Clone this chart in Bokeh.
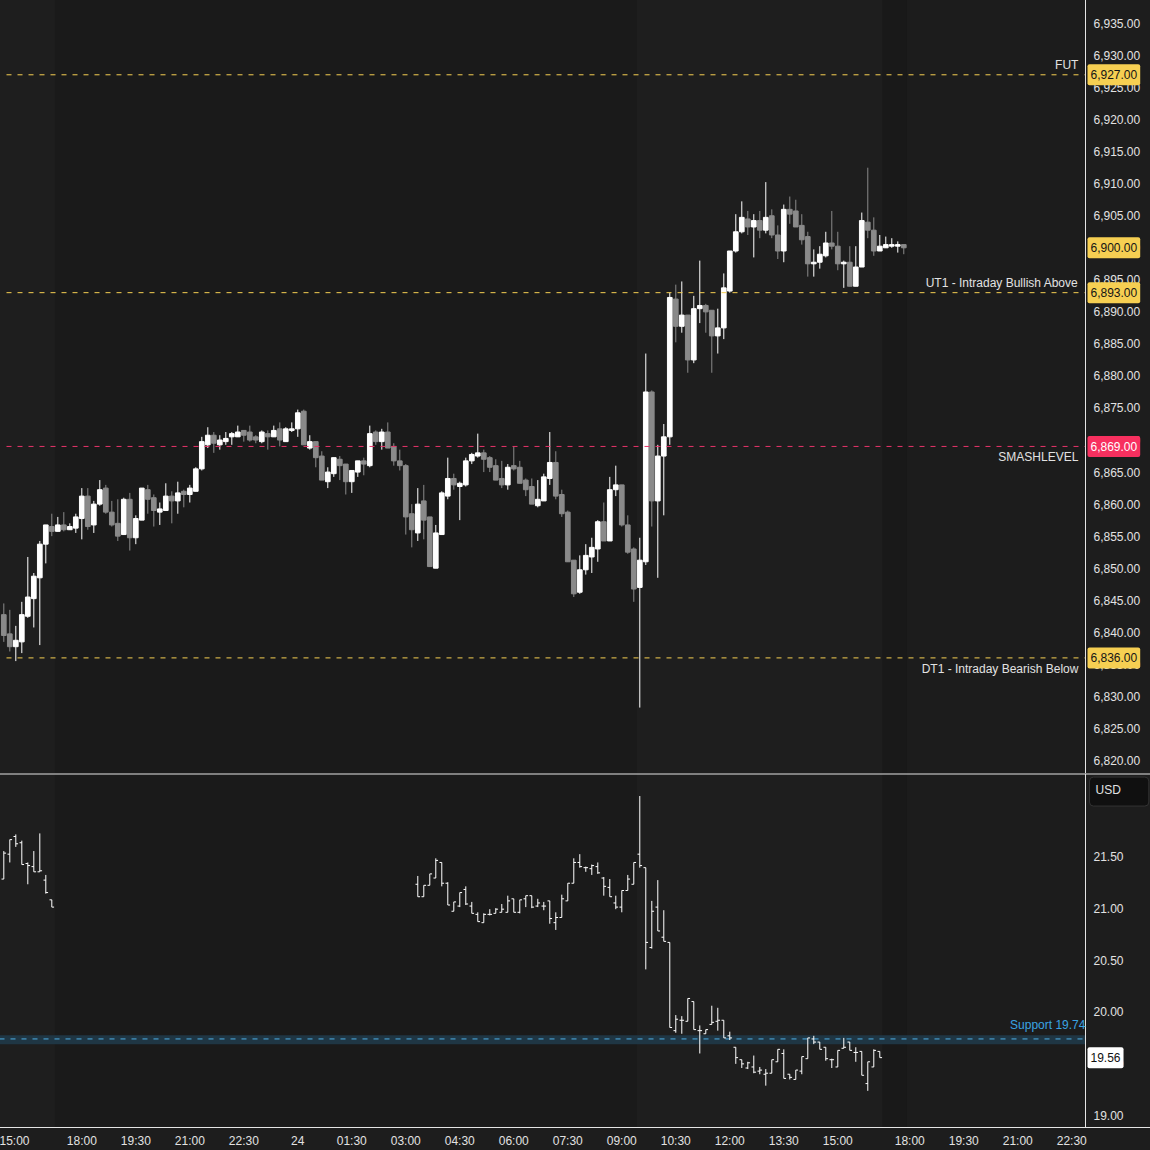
import numpy as np
from bokeh.plotting import figure
from bokeh.models import (ColumnDataSource, FixedTicker, NumeralTickFormatter, Label,
                          BoxAnnotation, Span, Range1d, LinearAxis)
from bokeh.layouts import column
from bokeh.embed import file_html
from bokeh.resources import INLINE

# ---------------- data ----------------
es_open = [6842.75, 6839.75, 6837.75, 6838.5, 6842.5, 6845.25, 6848.5, 6853.75, 6856.5, 6855.75,
           6856.75, 6856.0, 6856.25, 6857.75, 6861.25, 6856.75, 6860.0, 6862.5, 6858.75, 6857.0,
           6855.25, 6860.75, 6854.75, 6857.5, 6862.25, 6861.0, 6858.75, 6859.0, 6861.25, 6860.5,
           6862.0, 6861.5, 6862.0, 6865.5, 6869.25, 6870.75, 6869.25, 6869.75, 6870.5, 6870.5,
           6871.5, 6871.25, 6870.5, 6869.75, 6871.0, 6870.5, 6871.75, 6869.75, 6871.5, 6871.75,
           6874.5, 6868.75, 6869.75, 6867.5, 6863.5, 6864.75, 6867.0, 6866.25, 6863.5, 6865.0,
           6866.75, 6866.0, 6871.25, 6869.75, 6871.25, 6869.0, 6866.75, 6866.0, 6858.5, 6855.5,
           6860.5, 6858.0, 6850.0, 6855.25, 6861.25, 6864.0, 6862.75, 6863.0, 6866.75, 6867.5,
           6868.0, 6867.25, 6866.0, 6864.0, 6863.0, 6866.0, 6865.75, 6863.75, 6862.75, 6859.75,
           6860.5, 6864.0, 6866.5, 6861.5, 6858.75, 6851.25, 6846.25, 6849.75, 6851.75, 6853.0,
           6857.25, 6854.25, 6862.25, 6863.0, 6856.75, 6853.0, 6847.0, 6851.0, 6877.5, 6860.5,
           6867.5, 6870.5, 6892.0, 6887.75, 6889.5, 6882.5, 6890.5, 6891.0, 6890.25, 6886.25,
           6887.5, 6893.25, 6899.5, 6902.5, 6904.5, 6903.25, 6904.25, 6902.75, 6905.0, 6902.0,
           6899.5, 6906.0, 6905.75, 6903.5, 6901.75, 6897.5, 6897.75, 6898.75, 6900.75, 6900.25,
           6897.5, 6897.75, 6894.0, 6897.0, 6904.0, 6902.75, 6899.5, 6900.0, 6900.25, 6900.25,
           6900.5]
es_high = [6844.5, 6843.5, 6841.0, 6844.75, 6851.75, 6849.25, 6854.25, 6856.75, 6858.5, 6858.0,
           6858.75, 6857.0, 6858.5, 6862.5, 6862.5, 6860.5, 6863.75, 6863.0, 6860.5, 6860.75,
           6861.0, 6861.75, 6858.25, 6862.5, 6863.0, 6861.5, 6860.25, 6863.25, 6862.0, 6863.5,
           6862.25, 6863.0, 6865.75, 6870.5, 6872.0, 6871.25, 6870.75, 6871.25, 6871.25, 6872.25,
           6871.5, 6872.25, 6870.75, 6871.5, 6871.5, 6872.25, 6872.75, 6872.0, 6872.75, 6874.75,
           6874.75, 6870.75, 6869.75, 6868.25, 6865.75, 6867.25, 6867.5, 6866.25, 6865.25, 6866.75,
           6867.25, 6872.25, 6871.5, 6871.75, 6872.75, 6869.5, 6868.5, 6866.25, 6860.0, 6862.5,
           6863.0, 6858.0, 6856.75, 6862.0, 6867.25, 6864.75, 6863.5, 6867.25, 6868.0, 6871.0,
           6868.5, 6867.5, 6867.0, 6866.75, 6866.25, 6869.0, 6866.75, 6864.0, 6864.0, 6863.75,
           6864.75, 6871.25, 6868.25, 6862.25, 6859.0, 6851.25, 6852.0, 6853.75, 6854.75, 6857.5,
           6860.25, 6864.25, 6866.0, 6863.0, 6858.25, 6853.25, 6854.75, 6883.5, 6877.75, 6869.25,
           6872.5, 6893.0, 6894.25, 6894.75, 6889.5, 6892.5, 6898.0, 6891.25, 6890.25, 6890.5,
           6896.0, 6899.5, 6905.25, 6907.25, 6905.75, 6905.25, 6905.75, 6910.25, 6906.0, 6903.5,
           6906.75, 6908.0, 6907.5, 6905.25, 6902.5, 6899.75, 6900.25, 6902.5, 6905.75, 6902.5,
           6898.0, 6900.25, 6900.25, 6905.5, 6912.5, 6904.75, 6902.0, 6901.75, 6901.5, 6901.0,
           6900.5]
es_low = [6838.5, 6837.0, 6835.5, 6836.75, 6842.25, 6840.75, 6838.0, 6850.75, 6855.0, 6855.75,
          6855.75, 6856.0, 6855.5, 6854.5, 6856.0, 6855.5, 6859.75, 6858.5, 6856.5, 6854.25,
          6855.25, 6852.75, 6853.75, 6857.5, 6858.5, 6856.5, 6856.75, 6859.0, 6857.0, 6858.5,
          6859.5, 6860.25, 6862.0, 6865.25, 6868.75, 6868.0, 6868.5, 6869.25, 6869.25, 6870.5,
          6869.75, 6869.75, 6869.5, 6869.5, 6868.5, 6870.5, 6869.0, 6869.75, 6871.25, 6870.5,
          6869.25, 6868.5, 6865.75, 6863.75, 6862.5, 6864.25, 6863.75, 6861.5, 6861.75, 6864.25,
          6864.5, 6865.75, 6869.25, 6868.5, 6868.75, 6866.0, 6865.25, 6855.25, 6853.25, 6854.25,
          6854.5, 6850.25, 6850.0, 6855.25, 6860.75, 6862.25, 6857.5, 6862.75, 6866.25, 6867.25,
          6865.0, 6865.0, 6863.75, 6862.5, 6862.25, 6865.25, 6863.25, 6861.25, 6860.0, 6859.5,
          6860.5, 6863.0, 6860.75, 6858.0, 6851.0, 6845.5, 6846.0, 6849.0, 6849.25, 6851.0,
          6854.25, 6854.25, 6861.25, 6856.5, 6852.25, 6844.75, 6828.25, 6850.5, 6856.5, 6848.5,
          6858.25, 6869.25, 6885.25, 6886.75, 6880.5, 6882.0, 6888.25, 6886.75, 6880.5, 6883.5,
          6885.75, 6893.0, 6899.25, 6902.25, 6902.0, 6898.5, 6901.5, 6902.25, 6901.5, 6898.25,
          6897.75, 6903.75, 6903.25, 6900.5, 6895.5, 6895.5, 6896.75, 6898.5, 6899.75, 6896.5,
          6893.75, 6894.0, 6894.0, 6897.0, 6901.5, 6898.75, 6899.5, 6900.0, 6900.0, 6899.25,
          6899.0]
es_close = [6839.5, 6837.75, 6838.75, 6842.75, 6845.5, 6848.75, 6853.75, 6856.75, 6855.75, 6856.75,
            6856.0, 6856.5, 6858.0, 6861.25, 6856.5, 6860.0, 6862.25, 6858.75, 6856.75, 6855.0,
            6860.75, 6854.75, 6857.75, 6862.5, 6860.75, 6859.0, 6859.25, 6861.25, 6860.5, 6861.75,
            6861.5, 6862.5, 6865.5, 6869.75, 6870.75, 6869.5, 6870.0, 6870.25, 6871.0, 6871.25,
            6870.75, 6870.0, 6870.0, 6871.25, 6870.5, 6871.5, 6870.0, 6871.75, 6871.75, 6874.25,
            6869.25, 6869.75, 6867.25, 6863.75, 6865.0, 6867.25, 6866.0, 6863.5, 6865.25, 6866.75,
            6866.25, 6871.0, 6869.75, 6871.25, 6868.75, 6866.75, 6866.0, 6858.0, 6856.0, 6860.0,
            6857.5, 6850.25, 6855.5, 6861.75, 6864.0, 6863.0, 6863.25, 6866.75, 6867.75, 6868.0,
            6867.0, 6865.75, 6863.75, 6863.0, 6865.75, 6865.5, 6863.25, 6862.25, 6860.0, 6860.75,
            6864.25, 6866.5, 6861.25, 6858.5, 6851.0, 6846.0, 6849.75, 6852.0, 6853.25, 6857.25,
            6854.25, 6862.25, 6863.0, 6856.75, 6852.5, 6846.75, 6851.25, 6877.5, 6860.5, 6867.5,
            6870.5, 6892.25, 6887.75, 6889.5, 6882.5, 6890.5, 6891.0, 6890.0, 6886.25, 6887.5,
            6893.75, 6899.5, 6902.5, 6904.75, 6903.25, 6904.25, 6902.75, 6904.75, 6902.0, 6899.5,
            6906.0, 6905.25, 6903.25, 6901.25, 6897.5, 6897.75, 6899.0, 6900.75, 6900.25, 6897.5,
            6897.75, 6894.0, 6897.0, 6904.25, 6902.75, 6899.5, 6900.25, 6900.5, 6900.5, 6900.5,
            6900.0]

vix_idx = [0, 1, 2, 3, 4, 5, 6, 7, 8,
           69, 70, 71, 72, 73, 74, 75, 76, 77, 78, 79, 80, 81, 82, 83, 84, 85, 86, 87, 88, 89,
           90, 91, 92, 93, 94, 95, 96, 97, 98, 99, 100, 101, 102, 103, 104, 105, 106, 107, 108,
           109, 110, 111, 112, 113, 114, 115, 116, 117, 118, 119, 120, 121, 122, 123, 124, 125,
           126, 127, 128, 129, 130, 131, 132, 133, 134, 135, 136, 137, 138, 139, 140, 141, 142,
           143, 144, 145, 146]
vix_open = [21.28, 21.52, 21.69, 21.63, 21.43, 21.40, 21.35, 21.27, 21.08,
            21.23, 21.11, 21.22, 21.29, 21.44, 21.24, 20.97, 21.02, 21.18, 21.02, 20.94, 20.86,
            20.94, 20.95, 20.96, 20.96, 21.09, 20.96, 21.09, 21.12, 21.02, 21.02, 21.07, 20.86,
            20.91, 21.07, 21.24, 21.44, 21.39, 21.38, 21.40, 21.29, 21.20, 21.05, 21.01, 21.17,
            21.23, 21.52, 21.39, 20.62, 21.01, 20.72, 20.67, 19.82, 19.92, 19.91, 20.10, 19.82,
            19.79, 19.88, 19.91, 19.92, 19.77, 19.66, 19.54, 19.46, 19.47, 19.43, 19.40, 19.41,
            19.52, 19.60, 19.40, 19.35, 19.43, 19.55, 19.74, 19.71, 19.66, 19.54, 19.47, 19.65,
            19.71, 19.61, 19.62, 19.31, 19.47, 19.62]
vix_high = [21.55, 21.66, 21.71, 21.65, 21.44, 21.55, 21.72, 21.32, 21.08,
            21.31, 21.22, 21.33, 21.48, 21.44, 21.25, 21.06, 21.15, 21.21, 21.06, 20.96, 20.95,
            20.99, 21.00, 21.04, 21.12, 21.09, 21.08, 21.12, 21.12, 21.09, 21.06, 21.07, 20.96,
            21.13, 21.24, 21.48, 21.52, 21.40, 21.42, 21.44, 21.30, 21.28, 21.12, 21.17, 21.32,
            21.44, 22.08, 21.39, 21.07, 21.27, 20.98, 20.67, 19.97, 19.96, 20.13, 20.10, 19.87,
            19.83, 20.06, 20.04, 19.92, 19.81, 19.66, 19.54, 19.52, 19.58, 19.47, 19.45, 19.54,
            19.64, 19.64, 19.40, 19.44, 19.57, 19.75, 19.77, 19.71, 19.66, 19.55, 19.63, 19.75,
            19.71, 19.66, 19.62, 19.52, 19.64, 19.62]
vix_low = [21.28, 21.44, 21.59, 21.42, 21.23, 21.35, 21.35, 21.14, 21.01,
           21.11, 21.11, 21.22, 21.29, 21.21, 21.03, 20.97, 21.01, 21.03, 20.95, 20.87, 20.86,
           20.93, 20.95, 20.96, 20.96, 20.96, 20.95, 21.01, 21.00, 21.01, 20.98, 20.85, 20.79,
           20.91, 21.07, 21.24, 21.39, 21.35, 21.32, 21.33, 21.12, 21.11, 20.99, 20.96, 21.17,
           21.23, 21.39, 20.41, 20.61, 20.78, 20.68, 19.85, 19.80, 19.79, 19.91, 19.83, 19.60,
           19.79, 19.88, 19.82, 19.75, 19.73, 19.50, 19.46, 19.45, 19.41, 19.40, 19.29, 19.41,
           19.52, 19.36, 19.35, 19.35, 19.40, 19.55, 19.69, 19.64, 19.53, 19.46, 19.47, 19.65,
           19.63, 19.52, 19.39, 19.24, 19.47, 19.56]
vix_close = [21.53, 21.66, 21.62, 21.42, 21.41, 21.35, 21.36, 21.15, 21.01,
             21.11, 21.22, 21.33, 21.46, 21.24, 21.03, 21.06, 21.15, 21.04, 20.95, 20.87, 20.94,
             20.94, 20.99, 20.99, 21.07, 20.96, 21.08, 21.12, 21.01, 21.05, 21.02, 20.90, 20.91,
             21.09, 21.24, 21.44, 21.40, 21.39, 21.41, 21.34, 21.21, 21.11, 21.01, 21.17, 21.28,
             21.44, 21.41, 20.67, 20.97, 20.78, 20.68, 19.85, 19.93, 19.92, 20.13, 19.83, 19.82,
             19.83, 19.90, 19.92, 19.75, 19.75, 19.56, 19.50, 19.51, 19.42, 19.44, 19.41, 19.54,
             19.64, 19.36, 19.37, 19.44, 19.57, 19.75, 19.71, 19.64, 19.55, 19.54, 19.63, 19.66,
             19.63, 19.61, 19.39, 19.52, 19.63, 19.56]

# time axis: bar index -> label
tick_idx = [1, 13, 22, 31, 40, 49, 58, 67, 76, 85, 94, 103, 112, 121, 130, 139, 151, 160, 169, 178]
tick_labels = ["15:00", "18:00", "19:30", "21:00", "22:30", "24", "01:30", "03:00", "04:30", "06:00",
               "07:30", "09:00", "10:30", "12:00", "13:30", "15:00", "18:00", "19:30", "21:00", "22:30"]

price_ticks = [6820, 6825, 6830, 6835, 6840, 6845, 6850, 6855, 6860, 6865, 6870, 6875, 6880, 6885,
               6890, 6895, 6900, 6905, 6910, 6915, 6920, 6925, 6930, 6935]
vix_ticks = [19.0, 19.5, 20.0, 20.5, 21.0, 21.5]

level_prices = [6927, 6893, 6869, 6836]
level_names = ["FUT", "UT1 - Intraday Bullish Above", "SMASHLEVEL", "DT1 - Intraday Bearish Below"]
level_kind = ["gold", "gold", "pink", "gold"]
level_text_side = ["above", "above", "below", "below"]

support_level = 19.74
support_name = "Support 19.74"
support_band = (19.69, 19.776)

# sessions (bar index edges): regular hours, post-session, empty future area
rth_sessions = [(-1.0, 8.5), (105.5, 146.5)]
post_sessions = [(146.5, 150.5)]
future_start = 150.5

# ---------------- style ----------------
FONT = "Liberation Sans"
BG_NIGHT = "#1a1a1a"
BG_RTH = "#1e1e1e"
BG_POST = "#191919"
BG_FUT = "#1c1c1c"
BG_AXIS = "#1d1d1d"
AXIS_LINE = "#e4e4e4"
TXT = "#e2e2e2"
UP = "#ffffff"
DOWN = "#8a8a8a"
GOLD = "#f6cf52"
PINK = "#e8336a"
PINK_BADGE = "#f7305f"
BLUE = "#4fb0e6"

X_LO = -0.717         # left edge of the window (bar units)
X_FULL = 191.12       # right edge of the canvas (bar units)
X_AX = 180.28         # where the price scale starts
LINE_X0 = 0.45
BADGE_X = 180.62
BOX_X = 180.95

x_range = Range1d(X_LO, X_FULL)


def base_figure(frame_height, y_range, with_time_axis):
    p = figure(frame_width=1151, frame_height=frame_height, x_range=x_range, y_range=y_range,
               x_axis_location="below" if with_time_axis else None, y_axis_location=None,
               output_backend="svg", toolbar_location=None,
               min_border_left=0, min_border_top=0, min_border_right=0,
               min_border_bottom=23 if with_time_axis else 0,
               background_fill_color=BG_NIGHT, border_fill_color=BG_AXIS, outline_line_color=None,
               styles={"background-color": BG_AXIS})
    p.xgrid.visible = False
    p.ygrid.visible = False
    for lo, hi in rth_sessions:
        p.add_layout(BoxAnnotation(left=lo, right=hi, fill_color=BG_RTH, fill_alpha=1.0,
                                   line_color=None, level="underlay"))
    for lo, hi in post_sessions:
        p.add_layout(BoxAnnotation(left=lo, right=hi, fill_color=BG_POST, fill_alpha=1.0,
                                   line_color=None, level="underlay"))
    p.add_layout(BoxAnnotation(left=future_start, right=X_AX, fill_color=BG_FUT, fill_alpha=1.0,
                               line_color=None, level="underlay"))
    p.add_layout(BoxAnnotation(left=X_AX, fill_color=BG_AXIS, fill_alpha=1.0,
                               line_color=None, level="underlay"))
    return p


def price_axis(p, ticks, fmt):
    ax = LinearAxis(fixed_location=X_AX, ticker=FixedTicker(ticks=ticks),
                    formatter=NumeralTickFormatter(format=fmt))
    ax.axis_line_color = AXIS_LINE
    ax.axis_line_width = 1
    ax.major_tick_out = 0
    ax.major_tick_in = 0
    ax.minor_tick_out = 0
    ax.minor_tick_in = 0
    ax.major_tick_line_color = None
    ax.minor_tick_line_color = None
    ax.major_label_text_color = TXT
    ax.major_label_text_font = FONT
    ax.major_label_text_font_size = "12px"
    ax.major_label_standoff = 8
    p.add_layout(ax, "right")


def badge(p, y, text, bg, fg):
    p.add_layout(Label(x=BADGE_X, y=y, text=text, text_align="left", text_baseline="middle",
                       text_font=FONT, text_font_size="12px", text_color=fg,
                       background_fill_color=bg, background_fill_alpha=1.0,
                       padding=(3, 6), border_radius=2))


# ---------------- top pane: candles ----------------
top = base_figure(774, Range1d(6817.96, 6938.75), False)
price_axis(top, price_ticks, "0,0.00")

o = np.array(es_open)
h = np.array(es_high)
l = np.array(es_low)
c = np.array(es_close)
ix = np.arange(len(o))
up = c >= o
for mask, col in ((up, UP), (~up, DOWN)):
    src = ColumnDataSource(dict(x=ix[mask], hi=h[mask], lo=l[mask],
                                top=np.maximum(o, c)[mask], bot=np.minimum(o, c)[mask]))
    top.segment(x0="x", y0="lo", x1="x", y1="hi", source=src, line_color=col, line_width=1)
    top.vbar(x="x", width=0.78, top="top", bottom="bot", source=src,
             fill_color=col, line_color=col, line_width=1)

for price, name, kind, side in zip(level_prices, level_names, level_kind, level_text_side):
    col = GOLD if kind == "gold" else PINK
    top.segment(x0=[LINE_X0], y0=[price], x1=[X_AX], y1=[price], line_color=col,
                line_width=1, line_dash="5 6")
    top.add_layout(Label(x=179.1, y=price, text=name, text_align="right",
                         text_baseline="bottom" if side == "above" else "top",
                         y_offset=3 if side == "above" else -4,
                         text_font=FONT, text_font_size="12px", text_color=TXT))

badge(top, es_close[-1], f"{es_close[-1]:,.2f}", GOLD, "#151515")
for price, kind in zip(level_prices, level_kind):
    if kind == "gold":
        badge(top, price, f"{price:,.2f}", GOLD, "#151515")
    else:
        badge(top, price, f"{price:,.2f}", PINK_BADGE, "#ffffff")

# ---------------- bottom pane: VIX OHLC bars ----------------
bot = base_figure(354, Range1d(18.887, 22.297), True)
price_axis(bot, vix_ticks, "0.00")

xa = bot.xaxis[0]
xa.ticker = FixedTicker(ticks=tick_idx)
xa.major_label_overrides = {t: s for t, s in zip(tick_idx, tick_labels)}
xa.axis_line_color = AXIS_LINE
xa.major_tick_out = 0
xa.major_tick_in = 0
xa.minor_tick_out = 0
xa.minor_tick_in = 0
xa.major_tick_line_color = None
xa.minor_tick_line_color = None
xa.major_label_text_color = TXT
xa.major_label_text_font = FONT
xa.major_label_text_font_size = "12px"
xa.major_label_standoff = 6

bot.add_layout(BoxAnnotation(bottom=support_band[0], top=support_band[1], right=X_AX,
                             fill_color="#1f3644", fill_alpha=1.0, line_color=None,
                             level="underlay"))
bot.segment(x0=[X_LO], y0=[support_level], x1=[X_AX], y1=[support_level], line_color=BLUE,
            line_width=1, line_dash="5 6")
bot.add_layout(Label(x=X_AX, y=support_level, text=support_name, text_align="right",
                     text_baseline="bottom", y_offset=7, text_font=FONT, text_font_size="12px",
                     text_color="#3aa3e3"))

vx = np.array(vix_idx, dtype=float)
vsrc = ColumnDataSource(dict(x=vx, xl=vx - 0.38, xr=vx + 0.38, o=vix_open, h=vix_high,
                             l=vix_low, c=vix_close))
bot.segment(x0="x", y0="l", x1="x", y1="h", source=vsrc, line_color="#ffffff", line_width=1)
bot.segment(x0="xl", y0="o", x1="x", y1="o", source=vsrc, line_color="#ffffff", line_width=1)
bot.segment(x0="x", y0="c", x1="xr", y1="c", source=vsrc, line_color="#ffffff", line_width=1)

badge(bot, vix_close[-1], f"{vix_close[-1]:.2f}", "#ffffff", "#111111")

bot.add_layout(Label(x=BOX_X, y=22.123, text="USD", text_align="left", text_baseline="middle",
                     text_font=FONT, text_font_size="12px", text_color=TXT,
                     background_fill_color="#101010", border_line_color="#333333",
                     border_line_width=1, padding=(6, 28, 6, 9), border_radius=4))

bot.add_layout(Span(location=22.297, dimension="width", line_color=AXIS_LINE, line_width=2))

layout = column(top, bot, spacing=0, margin=(-1, 0, 0, -1),
                styles={"background-color": BG_AXIS})

open("out.html", "w").write(file_html(layout, INLINE))
